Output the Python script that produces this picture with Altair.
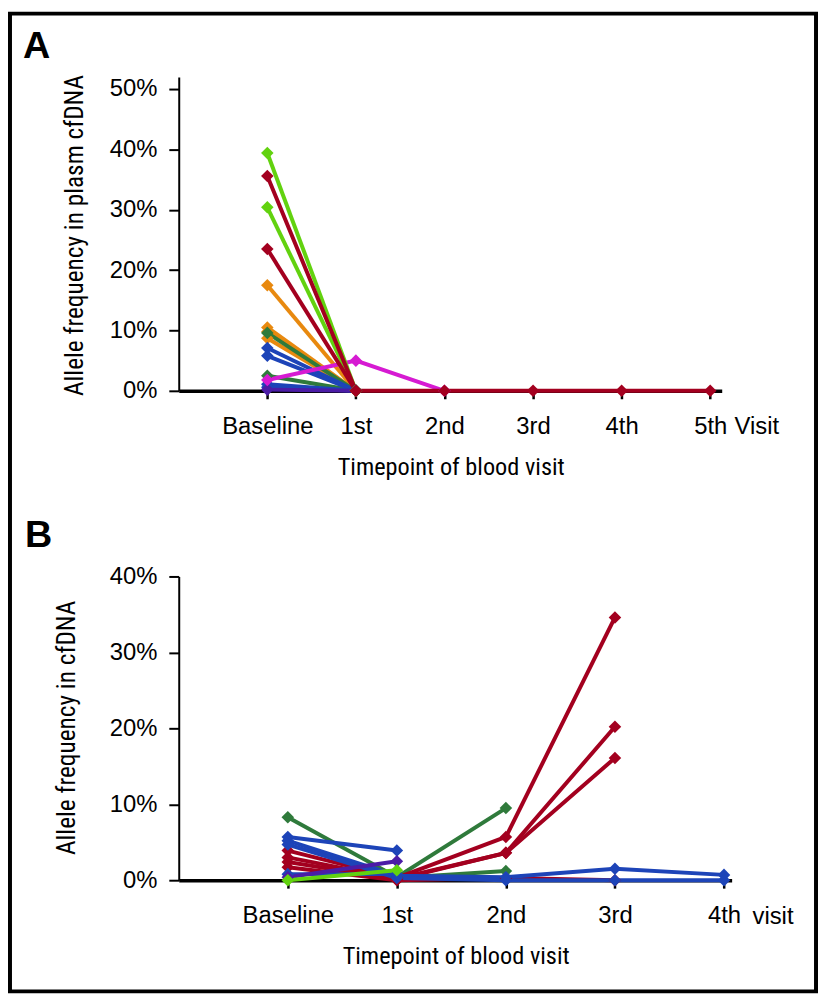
import altair as alt
import pandas as pd

# ---------------- Panel A data ----------------
a_visits = ["Baseline", "1st", "2nd", "3rd", "4th", "5th"]
a_groups = ["orange", "orange", "orange", "orange", "dkgreen", "dkgreen",
            "blue", "blue", "blue", "blue", "purple", "magenta",
            "lime", "lime", "red", "red"]
a_values = [
    [10.5, 0], [9.8, 0], [8.7, 0], [17.5, 0],
    [9.6, 0], [2.5, 0],
    [7.1, 0], [5.8, 0], [1.1, 0], [0.6, 0],
    [0.2, 0],
    [1.8, 5.0, 0],
    [30.4, 0], [39.4, 0],
    [23.5, 0], [35.6, 0, 0, 0, 0, 0],
]
a_yticks = [0, 10, 20, 30, 40, 50]

# ---------------- Panel B data ----------------
b_visits = ["Baseline", "1st", "2nd", "3rd", "4th"]
b_groups = ["dkgreen", "dkgreen", "red", "red", "red", "red",
            "blue", "blue", "blue", "blue", "purple", "lime"]
b_values = [
    [8.3, 0.4, 9.5], [None, 0.3, 1.2],
    [3.9, 0.3, 5.7, 34.6], [3.0, 0.2, 3.6, 20.2], [2.4, 0.1, 3.6, 16.1], [1.7, 0.0, 0.3, 0.0],
    [5.7, 3.9], [5.2, 0.6, 0.4, 1.5, 0.7], [4.7, 0.3, 0, 0, 0], [0.8, 0.8],
    [0.4, 2.5],
    [0, 1.3],
]
b_yticks = [0, 10, 20, 30, 40]

group_names = ["orange", "dkgreen", "blue", "purple", "magenta", "lime", "red"]
group_colors = ["#e8890f", "#2f7a3b", "#1d44b8", "#4b1ca6", "#d61ad2", "#62d20f", "#a3001f"]


def to_df(groups, values):
    rows = []
    for i, (g, vals) in enumerate(zip(groups, values)):
        for v, val in enumerate(vals):
            if val is None:
                continue
            rows.append({"sid": f"{i:02d}", "grp": g, "visit": v, "value": val})
    return pd.DataFrame(rows)


dfa = to_df(a_groups, a_values)
dfb = to_df(b_groups, b_values)

LABEL_FONT = "Liberation Sans"
TITLE_FONT = "Liberation Sans Narrow, Roboto Condensed, DejaVu Sans Condensed, sans-serif"

color = alt.Color("grp:N", scale=alt.Scale(domain=group_names, range=group_colors), legend=None)


def label_expr(visits):
    return "[" + ",".join(f"'{v}'" for v in visits) + "][datum.value]"


def panel(df, visits, xdom, xrange, ydom, yrange, yticks, ytitle,
          x_offset, ytitleX, ytitleY, xtitleX):
    x = alt.X(
        "visit:Q",
        scale=alt.Scale(domain=xdom, range=xrange, nice=False, zero=False),
        axis=alt.Axis(
            values=list(range(len(visits))), labelExpr=label_expr(visits),
            orient="bottom", offset=x_offset,
            title="Timepoint of blood visit", titleX=xtitleX, titleY=84,
            titleBaseline="alphabetic", titleFont=TITLE_FONT, titleFontSize=24.5,
            titleFontWeight="normal", titleColor="black",
            labelFont=LABEL_FONT, labelFontSize=24, labelColor="black",
            labelPadding=16, tickSize=8, tickWidth=2.5, tickColor="black",
            domainColor="black", domainWidth=3.5, grid=False,
        ),
    )
    y = alt.Y(
        "value:Q",
        scale=alt.Scale(domain=ydom, range=yrange, nice=False, zero=False),
        axis=alt.Axis(
            values=yticks, labelExpr="datum.value + '%'",
            orient="left", title=ytitle, titleX=ytitleX, titleY=ytitleY,
            titleAngle=270, titleBaseline="alphabetic", titleAlign="center",
            titleFont=TITLE_FONT, titleFontSize=25.5, titleFontWeight="normal",
            titleColor="black",
            labelFont=LABEL_FONT, labelFontSize=24, labelColor="black",
            labelPadding=12, tickSize=10, tickWidth=2, tickColor="black",
            domainColor="black", domainWidth=2, grid=False,
        ),
    )
    lines = alt.Chart(df).mark_line(strokeWidth=4).encode(
        x=x, y=y, color=color, detail="sid:N")
    pts = alt.Chart(df).mark_point(shape="diamond", filled=True, size=160, opacity=1).encode(
        x=x, y=y, color=color)
    return alt.layer(lines, pts)


panel_a = panel(dfa, a_visits, [-1, 5.13], [0, 547], [0, 52], [304, -12.2], a_yticks,
                "Allele frequency in plasm cfDNA", -493, -97, 147, 274)
panel_b = panel(dfb, b_visits, [-1, 4.07], [0, 557], [0, 40], [797, 491], b_yticks,
                "Allele frequency in cfDNA", 0, -105, 643, 279)

one = pd.DataFrame({"k": [0]})

frame = alt.Chart(one).mark_rect(fillOpacity=0, stroke="black", strokeWidth=4).encode(
    x=alt.value(-170), x2=alt.value(642), y=alt.value(-76), y2=alt.value(909))


def text(t, x, y, size, weight="normal", font=LABEL_FONT):
    return alt.Chart(one).mark_text(
        align="left", baseline="alphabetic", font=font, fontSize=size,
        fontWeight=weight, color="black").encode(
        x=alt.value(x), y=alt.value(y), text=alt.value(t))


txt_a = text("A", -157, -31, 38, "bold")
txt_b = text("B", -155, 461, 38, "bold")
visit_a = text("Visit", 560, 347, 24)
visit_b = text("visit", 578, 841, 24)

chart = alt.layer(
    frame, panel_a, panel_b, txt_a, txt_b, visit_a, visit_b
).resolve_scale(
    x="independent", y="independent", color="shared"
).properties(
    width=557, height=797, padding=0, background="white"
).configure_view(stroke=None)

chart.save("out.html", embed_options={"renderer": "svg", "actions": False})
